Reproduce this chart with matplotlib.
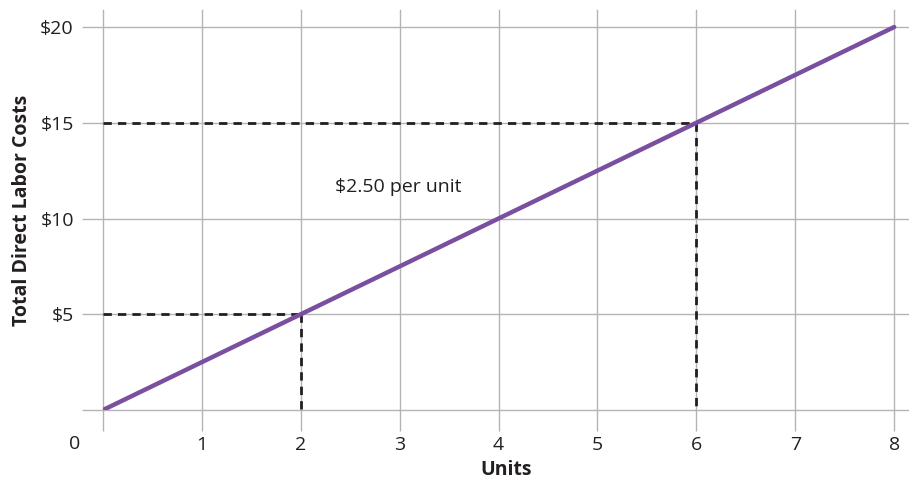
import matplotlib
matplotlib.use("Agg")
import matplotlib.pyplot as plt

units = [0, 8]
costs = [0, 20]
x_ticks = [1, 2, 3, 4, 5, 6, 7, 8]
y_ticks = [5, 10, 15, 20]
y_tick_labels = ["$5", "$10", "$15", "$20"]
marker_units = [2, 6]
marker_costs = [5, 15]
annotation = "$2.50 per unit"

plt.rcParams['font.family'] = ['Open Sans', 'DejaVu Sans']
FS = 14
txt_c = "#231f20"

fig = plt.figure(figsize=(9.09, 4.84), dpi=100)
ax = fig.add_axes([103/909, 74/484, 806/909, 400/484])
ax.set_xlim(0, 8.15)
ax.set_ylim(0, 20.89)

grid_c = "#b4b4b8"
for x in [0] + x_ticks:
    ax.axvline(x, color=grid_c, lw=1.0, zorder=1, clip_on=False)
for y in [0] + y_ticks:
    ax.axhline(y, color=grid_c, lw=1.0, zorder=1, clip_on=False)

for s in ax.spines.values():
    s.set_visible(False)

ax.set_xticks([0] + x_ticks)
ax.set_xticklabels([""] + [str(v) for v in x_ticks])
ax.set_yticks([0] + y_ticks)
ax.set_yticklabels([""] + y_tick_labels)
ax.tick_params(axis='both', length=15, width=1.0, color=grid_c, labelsize=FS,
               labelcolor=txt_c, direction='out')
ax.tick_params(axis='x', pad=4)
ax.tick_params(axis='y', pad=6)

ax.text(-0.283, -1.78, "0", ha='center', va='center', fontsize=FS, color=txt_c,
        clip_on=False)

dash_c = "#231f20"
for mx, my in zip(marker_units, marker_costs):
    ax.plot([0, mx], [my, my], color=dash_c, lw=2.0, ls=(0, (3, 2.2)), zorder=2,
            dash_capstyle='butt')
    ax.plot([mx, mx], [my, 0], color=dash_c, lw=2.0, ls=(0, (3, 2.2)), zorder=2,
            dash_capstyle='butt')

ax.plot(units, costs, color="#7b4fa0", lw=3.2, zorder=3, solid_capstyle='round')

ax.text(2.35, 11.65, annotation, ha='left', va='center', fontsize=FS, color=txt_c)

ax.set_xlabel("Units", fontsize=FS, fontweight='bold', color=txt_c, labelpad=4)
ax.set_ylabel("Total Direct Labor Costs", fontsize=FS, fontweight='bold',
              color=txt_c, labelpad=6)

fig.savefig("out.png", dpi=100, facecolor="white")
